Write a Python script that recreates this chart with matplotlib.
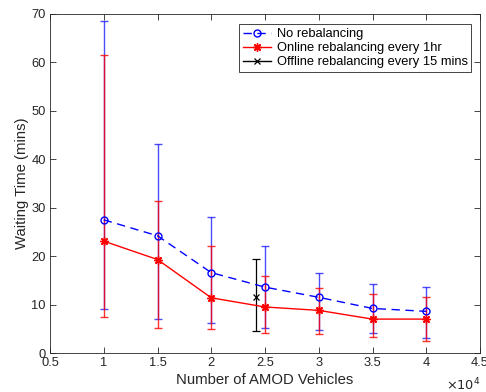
import matplotlib
matplotlib.use("Agg")
import matplotlib.pyplot as plt
from matplotlib.ticker import FuncFormatter

plt.rcParams['font.family'] = ['Liberation Sans', 'DejaVu Sans']
plt.rcParams['font.size'] = 9.3

# data
vehicles = [10000, 15000, 20000, 25000, 30000, 35000, 40000]

no_reb = [27.5, 24.2, 16.6, 13.6, 11.5, 9.2, 8.6]
no_reb_hi = [68.5, 43.2, 28.1, 22.0, 16.5, 14.2, 13.6]
no_reb_lo = [9.0, 7.1, 6.2, 5.1, 4.8, 4.2, 3.0]

online = [23.1, 19.3, 11.4, 9.5, 8.8, 7.0, 7.0]
online_hi = [61.5, 31.3, 22.1, 15.9, 13.5, 12.2, 11.6]
online_lo = [7.4, 5.1, 4.9, 4.1, 3.9, 3.4, 2.5]

offline_x = [24200]
offline = [11.5]
offline_hi = [19.5]
offline_lo = [4.6]

xticks = [5000, 10000, 15000, 20000, 25000, 30000, 35000, 40000, 45000]
yticks = [0, 10, 20, 30, 40, 50, 60, 70]


def err(mid, hi, lo):
    return [[m - l for m, l in zip(mid, lo)], [h - m for h, m in zip(hi, mid)]]


fig = plt.figure(figsize=(4.86, 3.92), dpi=100)
ax = fig.add_axes([50 / 486, 1 - 353 / 392, 430 / 486, 339 / 392])

# error bars (semi-transparent, like the reference)
ax.errorbar(vehicles, no_reb, yerr=err(no_reb, no_reb_hi, no_reb_lo), fmt='none',
            ecolor='blue', elinewidth=1, capsize=3, capthick=1, alpha=0.7)
ax.errorbar(vehicles, online, yerr=err(online, online_hi, online_lo), fmt='none',
            ecolor='red', elinewidth=1, capsize=3, capthick=1, alpha=0.8)
ax.errorbar(offline_x, offline, yerr=err(offline, offline_hi, offline_lo), fmt='none',
            ecolor='black', elinewidth=0.9, capsize=3, capthick=0.9)

ax.plot(vehicles, no_reb, color='blue', ls=(0, (6, 4)), lw=1, marker='o', ms=5,
        mfc='none', mew=1, label='No rebalancing')
ax.plot(vehicles, online, color='red', ls='-', lw=1, marker=(8, 2, 0), ms=6,
        mew=1, label='Online rebalancing every 1hr')
ax.plot(offline_x, offline, color='black', ls='-', lw=1, marker='x', ms=4,
        mew=0.9, label='Offline rebalancing every 15 mins')

ax.set_xlim(5000, 45000)
ax.set_ylim(0, 70)
ax.set_xticks(xticks)
ax.set_yticks(yticks)
ax.xaxis.set_major_formatter(FuncFormatter(lambda v, p: '%g' % (v / 1e4)))
ax.tick_params(direction='in', top=True, right=True, length=4, width=0.6,
               colors='#262626', labelsize=9.3, pad=3)
for s in ax.spines.values():
    s.set_linewidth(0.6)
    s.set_color('#262626')

ax.set_xlabel('Number of AMOD Vehicles', fontsize=10.7, color='#262626', labelpad=2.5)
ax.set_ylabel('Waiting Time (mins)', fontsize=10.7, color='#262626', labelpad=2)
fig.text(446 / 486, 1 - 385 / 392, r'$\times10^4$', fontsize=9.3, color='#262626',
         va='center')

leg = ax.legend(loc='upper right', bbox_to_anchor=(0.98, 0.97), fontsize=9.3,
                fancybox=False, framealpha=1, edgecolor='#262626',
                borderpad=0.3, labelspacing=0.15, handlelength=2.2,
                handletextpad=0.4, borderaxespad=0)
leg.get_frame().set_linewidth(0.6)

fig.savefig('out.png', dpi=100)
